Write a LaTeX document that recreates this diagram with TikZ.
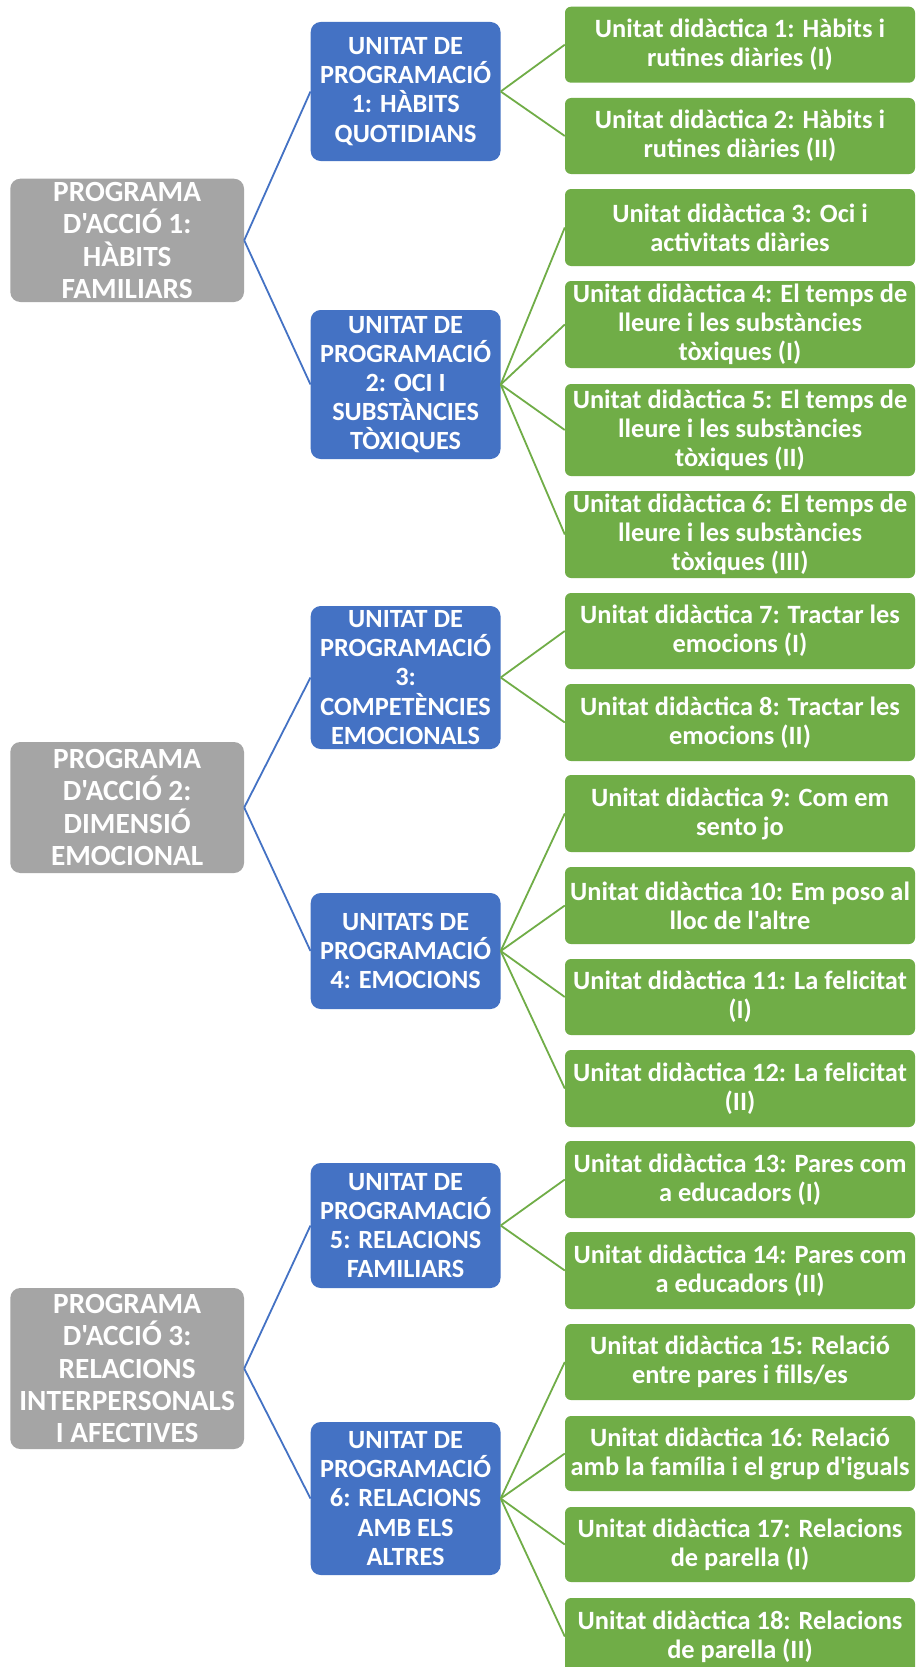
\documentclass[tikz,border=0pt]{standalone}
\usepackage{fontspec}
\setmainfont{Carlito}[Ligatures=TeXOff]
\definecolor{grayc}{HTML}{A5A5A5}
\definecolor{bluec}{HTML}{4472C4}
\definecolor{greenc}{HTML}{70AD47}
\tikzset{
  graybox/.style={rectangle, rounded corners=10pt, fill=grayc, draw=none, inner sep=0pt},
  bluebox/.style={rectangle, rounded corners=10pt, fill=bluec, draw=none, inner sep=0pt},
  greenbox/.style={rectangle, rounded corners=6pt, fill=greenc, draw=none, inner sep=0pt},
  graytext/.style={text=white, align=center, inner sep=0pt, font=\fontsize{29.3}{32.3}\selectfont\bfseries},
  bluetext/.style={text=white, align=center, inner sep=0pt, font=\fontsize{26.3}{29.1}\selectfont\bfseries},
  greentext/.style={text=white, align=center, inner sep=0pt, font=\fontsize{26.4}{29}\selectfont\bfseries},
  blueline/.style={draw=bluec, line width=1.8pt},
  greenline/.style={draw=greenc, line width=1.8pt},
}
\newcommand\mkbox[7]{%
  \pgfmathsetmacro\bxw{#5-#3}%
  \pgfmathsetmacro\bxh{#6-#4}%
  \pgfmathsetmacro\bxcx{(#3+#5)/2}%
  \pgfmathsetmacro\bxcy{(#4+#6)/2}%
  \node[#2box, minimum width=\bxw pt, minimum height=\bxh pt] (#1) at (\bxcx,\bxcy) {};
  \node[#2text] (#1t) at (#1.center) {#7};
}
\begin{document}
\begin{tikzpicture}[x=1pt,y=-1pt]
\useasboundingbox (0,0) rectangle (916,1667);
\clip (0,0) rectangle (916,1667);
\fill[white] (0,0) rectangle (916,1667);
% level 1
\mkbox{g1}{gray}{10.3}{178.7}{244}{302}{PROGRAMA\\D'ACCIÓ 1:\\HÀBITS\\FAMILIARS}
\mkbox{g2}{gray}{10.3}{742}{244}{873}{PROGRAMA\\D'ACCIÓ 2:\\DIMENSIÓ\\EMOCIONAL}
\mkbox{g3}{gray}{10.3}{1288}{244}{1449}{PROGRAMA\\D'ACCIÓ 3:\\RELACIONS\\INTERPERSONALS\\I AFECTIVES}
% level 2
\mkbox{b1}{blue}{310.7}{22}{500.5}{161}{UNITAT DE\\PROGRAMACIÓ\\1: HÀBITS\\QUOTIDIANS}
\mkbox{b2}{blue}{310.7}{310}{500.5}{459}{UNITAT DE\\PROGRAMACIÓ\\2: OCI I\\SUBSTÀNCIES\\TÒXIQUES}
\mkbox{b3}{blue}{310.7}{606}{500.5}{749}{UNITAT DE\\PROGRAMACIÓ\\3:\\COMPETÈNCIES\\EMOCIONALS}
\mkbox{b4}{blue}{310.7}{893}{500.5}{1009}{UNITATS DE\\PROGRAMACIÓ\\4: EMOCIONS}
\mkbox{b5}{blue}{310.7}{1163}{500.5}{1288}{UNITAT DE\\PROGRAMACIÓ\\5: RELACIONS\\FAMILIARS}
\mkbox{b6}{blue}{310.7}{1422}{500.5}{1575}{UNITAT DE\\PROGRAMACIÓ\\6: RELACIONS\\AMB ELS\\ALTRES}
% level 3
\mkbox{n1}{green}{565}{6.7}{915}{82.7}{Unitat didàctica 1: Hàbits i\\rutines diàries (I)}
\mkbox{n2}{green}{565}{98}{915}{174}{Unitat didàctica 2: Hàbits i\\rutines diàries (II)}
\mkbox{n3}{green}{565}{189}{915}{266}{Unitat didàctica 3: Oci i\\activitats diàries}
\mkbox{n4}{green}{565}{281}{915}{368}{Unitat didàctica 4: El temps de\\lleure i les substàncies\\tòxiques (I)}
\mkbox{n5}{green}{565}{384}{915}{476}{Unitat didàctica 5: El temps de\\lleure i les substàncies\\tòxiques (II)}
\mkbox{n6}{green}{565}{491}{915}{578}{Unitat didàctica 6: El temps de\\lleure i les substàncies\\tòxiques (III)}
\mkbox{n7}{green}{565}{593}{915}{669}{Unitat didàctica 7: Tractar les\\emocions (I)}
\mkbox{n8}{green}{565}{684}{915}{761}{Unitat didàctica 8: Tractar les\\emocions (II)}
\mkbox{n9}{green}{565}{775}{915}{852}{Unitat didàctica 9: Com em\\sento jo}
\mkbox{n10}{green}{565}{867}{915}{944}{Unitat didàctica 10: Em poso al\\lloc de l'altre}
\mkbox{n11}{green}{565}{959}{915}{1035}{Unitat didàctica 11: La felicitat\\(I)}
\mkbox{n12}{green}{565}{1050}{915}{1127}{Unitat didàctica 12: La felicitat\\(II)}
\mkbox{n13}{green}{565}{1141}{915}{1218}{Unitat didàctica 13: Pares com\\a educadors (I)}
\mkbox{n14}{green}{565}{1232}{915}{1309}{Unitat didàctica 14: Pares com\\a educadors (II)}
\mkbox{n15}{green}{565}{1324}{915}{1400}{Unitat didàctica 15: Relació\\entre pares i fills/es}
\mkbox{n16}{green}{565}{1416}{915}{1491}{Unitat didàctica 16: Relació\\amb la família i el grup d'iguals}
\mkbox{n17}{green}{565}{1507}{915}{1582}{Unitat didàctica 17: Relacions\\de parella (I)}
\mkbox{n18}{green}{565}{1598}{915}{1675}{Unitat didàctica 18: Relacions\\de parella (II)}
% connectors
\draw[blueline] (g1.east) -- (b1.west);
\draw[blueline] (g1.east) -- (b2.west);
\draw[blueline] (g2.east) -- (b3.west);
\draw[blueline] (g2.east) -- (b4.west);
\draw[blueline] (g3.east) -- (b5.west);
\draw[blueline] (g3.east) -- (b6.west);
\foreach \s/\t in {b1/n1,b1/n2,b2/n3,b2/n4,b2/n5,b2/n6,b3/n7,b3/n8,b4/n9,b4/n10,b4/n11,b4/n12,b5/n13,b5/n14,b6/n15,b6/n16,b6/n17,b6/n18}
  \draw[greenline] (\s.east) -- (\t.west);
\end{tikzpicture}
\end{document}
